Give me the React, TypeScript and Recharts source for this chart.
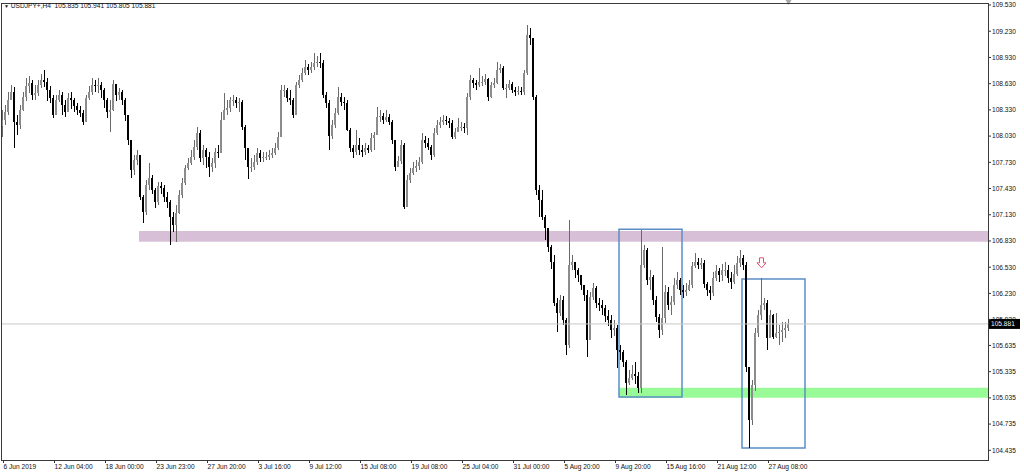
import { Bar, BarChart, ReferenceArea, ReferenceDot, ReferenceLine, XAxis, YAxis } from "recharts";

// USDJPY+ H4, one entry per bar (open = previous close)
const closes = [
  108.21, 108.31, 108.44, 108.53, 108.19, 108.16, 108.33, 108.48, 108.60, 108.64,
  108.50, 108.52, 108.61, 108.67, 108.65, 108.56, 108.47, 108.27, 108.44, 108.50,
  108.39, 108.31, 108.47, 108.44, 108.37, 108.33, 108.29, 108.19, 108.47, 108.53,
  108.61, 108.60, 108.61, 108.56, 108.44, 108.31, 108.33, 108.63, 108.50, 108.53,
  108.44, 108.27, 107.99, 107.64, 107.76, 107.81, 107.33, 107.16, 107.47, 107.55,
  107.41, 107.28, 107.46, 107.44, 107.33, 107.28, 107.10, 107.01, 107.15, 107.36,
  107.49, 107.67, 107.72, 107.79, 107.91, 108.07, 107.78, 107.87, 107.79, 107.68,
  107.72, 107.85, 107.84, 108.21, 108.33, 108.35, 108.44, 108.44, 108.41, 108.42,
  108.13, 107.89, 107.68, 107.68, 107.73, 107.84, 107.78, 107.79, 107.79, 107.81,
  107.84, 107.89, 108.02, 108.56, 108.56, 108.47, 108.44, 108.27, 108.61, 108.67,
  108.75, 108.82, 108.79, 108.82, 108.87, 108.88, 108.87, 108.50, 108.41, 108.03,
  108.16, 108.29, 108.48, 108.42, 108.41, 108.10, 107.89, 107.85, 107.93, 107.87,
  107.85, 107.89, 107.87, 108.01, 108.04, 108.25, 108.26, 108.21, 108.25, 108.19,
  107.99, 107.68, 107.75, 107.93, 107.22, 107.53, 107.61, 107.67, 107.69, 107.73,
  107.99, 107.95, 107.91, 107.81, 108.07, 108.16, 108.19, 108.21, 108.20, 108.18,
  108.02, 108.08, 108.13, 108.13, 108.12, 108.48, 108.67, 108.64, 108.61, 108.65,
  108.65, 108.68, 108.48, 108.61, 108.64, 108.79, 108.81, 108.58, 108.58, 108.63,
  108.56, 108.53, 108.55, 108.53, 108.75, 109.19, 109.15, 108.48, 107.41, 107.30,
  107.10, 106.98, 106.76, 106.59, 106.12, 106.01, 106.15, 105.93, 105.64, 106.56,
  106.59, 106.50, 106.44, 106.33, 106.21, 105.70, 106.19, 106.29, 106.12, 106.10,
  106.06, 105.97, 105.93, 105.81, 105.84, 105.58, 105.56, 105.45, 105.21, 105.26,
  105.31, 105.28, 105.15, 106.56, 106.73, 106.38, 106.42, 106.15, 105.96, 105.81,
  105.95, 106.25, 106.10, 106.13, 106.33, 106.38, 106.27, 106.25, 106.27, 106.33,
  106.54, 106.59, 106.56, 106.58, 106.34, 106.27, 106.23, 106.41, 106.49, 106.44,
  106.50, 106.50, 106.41, 106.36, 106.45, 106.58, 106.64, 106.56, 105.39, 104.78,
  105.18, 105.78, 105.98, 106.10, 106.12, 105.72, 105.98, 105.73, 105.78, 105.79,
  105.81, 105.835, 105.881,
];

const highs = [
  108.33, 108.39, 108.53, 108.61, 108.59, 108.27, 108.39, 108.53, 108.70, 108.72,
  108.67, 108.61, 108.67, 108.74, 108.79, 108.70, 108.60, 108.50, 108.50, 108.56,
  108.53, 108.44, 108.52, 108.53, 108.47, 108.41, 108.37, 108.33, 108.50, 108.60,
  108.70, 108.67, 108.70, 108.65, 108.58, 108.47, 108.44, 108.67, 108.63, 108.58,
  108.56, 108.47, 108.27, 107.99, 107.81, 107.87, 107.81, 107.36, 107.53, 107.72,
  107.58, 107.44, 107.50, 107.50, 107.47, 107.39, 107.30, 107.16, 107.24, 107.41,
  107.55, 107.70, 107.78, 107.87, 107.99, 108.13, 108.10, 107.93, 107.89, 107.85,
  107.78, 107.89, 107.93, 108.31, 108.52, 108.44, 108.48, 108.50, 108.48, 108.47,
  108.44, 108.16, 107.87, 107.78, 107.81, 107.89, 107.87, 107.85, 107.85, 107.87,
  107.89, 107.95, 108.08, 108.61, 108.61, 108.58, 108.56, 108.47, 108.65, 108.73,
  108.81, 108.90, 108.86, 108.88, 108.98, 108.95, 108.98, 108.90, 108.53, 108.44,
  108.21, 108.35, 108.59, 108.52, 108.48, 108.44, 108.12, 107.93, 108.10, 108.01,
  107.93, 107.95, 107.93, 108.07, 108.08, 108.36, 108.33, 108.30, 108.33, 108.28,
  108.21, 107.99, 107.80, 107.99, 107.95, 107.58, 107.67, 107.73, 107.76, 107.79,
  108.07, 108.03, 108.01, 107.93, 108.12, 108.21, 108.25, 108.27, 108.26, 108.24,
  108.21, 108.12, 108.24, 108.19, 108.18, 108.52, 108.73, 108.70, 108.67, 108.81,
  108.72, 108.74, 108.70, 108.65, 108.70, 108.88, 108.85, 108.83, 108.63, 108.67,
  108.65, 108.59, 108.60, 108.59, 108.79, 109.30, 109.27, 109.13, 108.50, 107.47,
  107.41, 107.13, 106.93, 106.78, 106.67, 106.18, 106.21, 106.20, 105.95, 107.07,
  106.67, 106.59, 106.52, 106.43, 106.33, 106.27, 106.25, 106.35, 106.31, 106.18,
  106.15, 106.10, 106.04, 105.98, 105.93, 105.87, 105.64, 105.58, 105.47, 105.35,
  105.41, 105.44, 105.33, 106.96, 106.78, 106.75, 106.50, 106.44, 106.20, 105.99,
  106.76, 106.33, 106.30, 106.20, 106.41, 106.47, 106.41, 106.33, 106.35, 106.38,
  106.59, 106.69, 106.63, 106.63, 106.61, 106.36, 106.31, 106.47, 106.56, 106.52,
  106.57, 106.59, 106.55, 106.47, 106.55, 106.66, 106.73, 106.67, 106.59, 105.35,
  105.24, 105.84, 106.04, 106.41, 106.18, 106.15, 106.04, 105.99, 106.01, 105.87,
  105.90, 105.90, 105.941,
];

const lows = [
  108.02, 108.16, 108.27, 108.44, 107.89, 108.04, 108.12, 108.31, 108.44, 108.53,
  108.44, 108.44, 108.49, 108.58, 108.60, 108.44, 108.40, 108.24, 108.31, 108.42,
  108.27, 108.24, 108.31, 108.33, 108.31, 108.27, 108.24, 108.16, 108.19, 108.44,
  108.50, 108.53, 108.53, 108.47, 108.35, 108.24, 108.07, 108.31, 108.44, 108.44,
  108.39, 108.21, 107.93, 107.55, 107.58, 107.70, 107.30, 107.04, 107.13, 107.41,
  107.36, 107.21, 107.24, 107.36, 107.28, 107.21, 106.78, 106.93, 106.82, 107.13,
  107.32, 107.47, 107.64, 107.70, 107.76, 107.87, 107.73, 107.70, 107.66, 107.56,
  107.62, 107.66, 107.78, 108.12, 108.24, 108.27, 108.31, 108.37, 108.35, 108.31,
  108.10, 107.76, 107.53, 107.62, 107.64, 107.70, 107.73, 107.73, 107.76, 107.76,
  107.78, 107.81, 107.87, 108.02, 108.47, 108.42, 108.39, 108.24, 108.27, 108.58,
  108.65, 108.73, 108.73, 108.75, 108.79, 108.82, 108.81, 108.47, 108.35, 107.87,
  107.99, 108.12, 108.27, 108.37, 108.33, 108.08, 107.85, 107.78, 107.81, 107.81,
  107.79, 107.81, 107.84, 107.85, 107.87, 108.04, 108.19, 108.17, 108.19, 108.15,
  107.93, 107.64, 107.67, 107.72, 107.20, 107.24, 107.50, 107.58, 107.62, 107.64,
  107.71, 107.89, 107.87, 107.76, 107.79, 108.04, 108.12, 108.16, 108.16, 108.13,
  107.99, 107.99, 108.08, 108.09, 108.07, 108.04, 108.44, 108.58, 108.56, 108.59,
  108.60, 108.61, 108.44, 108.47, 108.58, 108.63, 108.75, 108.56, 108.47, 108.56,
  108.52, 108.49, 108.50, 108.50, 108.50, 108.73, 109.07, 108.44, 107.36, 107.10,
  107.07, 106.84, 106.70, 106.50, 106.09, 105.79, 105.97, 105.87, 105.53, 105.61,
  106.50, 106.41, 106.36, 106.27, 106.15, 105.50, 105.70, 106.15, 106.06, 106.03,
  105.98, 105.90, 105.86, 105.72, 105.75, 105.38, 105.47, 105.38, 105.07, 105.18,
  105.24, 105.19, 105.09, 105.10, 106.52, 106.33, 106.27, 106.10, 105.90, 105.72,
  105.75, 105.90, 106.04, 105.98, 106.10, 106.27, 106.21, 106.18, 106.20, 106.25,
  106.29, 106.52, 106.50, 106.50, 106.29, 106.20, 106.15, 106.20, 106.38, 106.36,
  106.38, 106.43, 106.34, 106.27, 106.33, 106.43, 106.54, 106.50, 105.33, 104.46,
  104.72, 105.12, 105.73, 105.93, 106.04, 105.58, 105.74, 105.70, 105.72, 105.64,
  105.67, 105.72, 105.805,
];

const firstOpen = 108.14;

const timeLabels = [
  "6 Jun 2019", "12 Jun 04:00", "18 Jun 00:00", "23 Jun 23:00", "27 Jun 20:00",
  "3 Jul 16:00", "9 Jul 12:00", "15 Jul 08:00", "19 Jul 08:00", "25 Jul 04:00",
  "31 Jul 00:00", "5 Aug 20:00", "9 Aug 20:00", "15 Aug 16:00", "21 Aug 12:00",
  "27 Aug 08:00",
];

const priceTicks = [
  109.53, 109.23, 108.93, 108.63, 108.33, 108.03, 107.73, 107.43, 107.13,
  106.83, 106.53, 106.23, 105.93, 105.635, 105.335, 105.035, 104.735, 104.435,
];

const lastBar = { open: 105.835, high: 105.941, low: 105.805, close: 105.881 };

// zones and boxes drawn on the chart (bar index / price)
const resistanceZone = { from: 46, lo: 106.82, hi: 106.945 };
const supportZone = { from: 206, lo: 105.035, hi: 105.15 };
const boxes = [
  { x1: 206, x2: 226, lo: 105.045, hi: 106.965 },
  { x1: 247, x2: 267, lo: 104.46, hi: 106.395 },
];
const arrowMark = { bar: 253, price: 106.58 };

const SLOTS = 329; // chart shift leaves empty space on the right
const LABEL_STEP = 17;
const FONT = "'Liberation Sans', Arial, sans-serif";

const data = Array.from({ length: SLOTS }, (_, i) => {
  if (i >= closes.length) return { idx: i };
  const open = i === 0 ? firstOpen : closes[i - 1];
  const close = closes[i];
  const high = Math.max(highs[i], open, close);
  const low = Math.min(lows[i], open, close);
  return { idx: i, open, close, high, low, range: [low, high] };
});

const tickIdx = timeLabels.map((_, k) => k * LABEL_STEP);

function Candle(props: any) {
  const { x, y, width, height, payload } = props;
  if (!payload || !payload.range) return null;
  const { open, close, high, low } = payload;
  const top = Math.min(y, y + height);
  const h = Math.abs(height);
  const k = h / (high - low || 1e-6);
  const py = (v: number) => top + (high - v) * k;
  const up = close >= open;
  const wick = up ? "#6a6a6a" : "#000";
  const body = up ? "#8c8c8c" : "#000";
  const cx = Math.floor(x + width / 2);
  const bTop = Math.round(py(Math.max(open, close)));
  const bBot = Math.max(bTop + 1, Math.round(py(Math.min(open, close))));
  return (
    <g>
      <rect x={cx} y={Math.round(top)} width={1} height={Math.max(1, Math.round(h))} fill={wick} />
      <rect x={cx - 1} y={bTop} width={2} height={bBot - bTop} fill={body} />
    </g>
  );
}

function TimeTick(props: any) {
  const { x, y, payload } = props;
  const label = timeLabels[payload.value / LABEL_STEP];
  if (!label) return null;
  const px = Math.round(x) + 0.5;
  return (
    <g>
      <line x1={px} x2={px} y1={y} y2={y + 3} stroke="#333" />
      <text x={px} y={y + 9} fontSize={6.6} fontFamily={FONT} fill="#111">
        {label}
      </text>
    </g>
  );
}

function PriceTag(props: any) {
  const vb = props.viewBox;
  if (!vb) return null;
  const x = vb.x + vb.width + 1;
  return (
    <g>
      <rect x={x} y={vb.y - 5} width={31} height={10} fill="#000" />
      <text x={x + 2} y={vb.y + 2.5} fontSize={6.6} fontFamily={FONT} fill="#fff">
        {lastBar.close.toFixed(3)}
      </text>
    </g>
  );
}

function DownArrow(props: any) {
  const { cx, cy } = props;
  const d = `M${cx - 2},${cy - 5} L${cx + 2},${cy - 5} L${cx + 2},${cy} L${cx + 4.5},${cy} L${cx},${cy + 5} L${cx - 4.5},${cy} L${cx - 2},${cy} Z`;
  return <path d={d} fill="#fff" stroke="#e8506a" strokeWidth={1} />;
}

function ShiftMarker(props: any) {
  const { cx, cy } = props;
  return <path d={`M${cx - 3},${cy - 3} L${cx + 3},${cy - 3} L${cx},${cy + 2} Z`} fill="#a8a8a8" />;
}

export default function App() {
  const ohlc = `${lastBar.open.toFixed(3)} ${lastBar.high.toFixed(3)} ${lastBar.low.toFixed(3)} ${lastBar.close.toFixed(3)}`;
  return (
    <div style={{ position: "absolute", left: 0, top: 0, width: 1024, height: 474, background: "#fff", overflow: "hidden" }}>
      <BarChart
        width={1024}
        height={474}
        data={data}
        margin={{ top: 3, right: 0, bottom: 0, left: 1 }}
        barCategoryGap={0}
        barGap={0}
      >
        <XAxis
          dataKey="idx"
          height={14}
          ticks={tickIdx}
          interval={0}
          tick={<TimeTick />}
          tickLine={false}
          axisLine={false}
          tickSize={0}
          tickMargin={0}
        />
        <YAxis
          orientation="right"
          width={36}
          type="number"
          domain={[104.324, 109.553]}
          allowDataOverflow
          ticks={priceTicks}
          interval={0}
          tickFormatter={(v: number) => v.toFixed(3)}
          tick={{ fontSize: 6.6, fontFamily: FONT, fill: "#111" }}
          tickSize={3}
          tickMargin={1}
          tickLine={{ stroke: "#333" }}
          axisLine={false}
        />
        <ReferenceArea
          x1={resistanceZone.from}
          y1={resistanceZone.lo}
          y2={resistanceZone.hi}
          fill="#d8bfd8"
          fillOpacity={1}
          stroke="none"
        />
        <ReferenceArea
          x1={supportZone.from}
          y1={supportZone.lo}
          y2={supportZone.hi}
          fill="#98fb98"
          fillOpacity={1}
          stroke="none"
        />
        <ReferenceLine y={lastBar.close} stroke="#c8c8c8" label={PriceTag} />
        <Bar dataKey="range" isAnimationActive={false} shape={<Candle />} />
        {boxes.map((b, i) => (
          <ReferenceArea
            key={i}
            x1={b.x1}
            x2={b.x2}
            y1={b.lo}
            y2={b.hi}
            fill="none"
            fillOpacity={0}
            stroke="#5b8ec4"
            strokeWidth={1.5}
          />
        ))}
        <ReferenceDot x={arrowMark.bar} y={arrowMark.price} shape={<DownArrow />} />
        <ReferenceDot x={closes.length - 1} y={109.553} shape={<ShiftMarker />} ifOverflow="visible" />
      </BarChart>
      <div
        style={{
          position: "absolute",
          left: 1,
          top: 3,
          width: 988,
          height: 458,
          boxSizing: "border-box",
          border: "1px solid #3a3a3a",
          pointerEvents: "none",
        }}
      />
      <div
        style={{
          position: "absolute",
          left: 4,
          top: 2,
          fontFamily: FONT,
          fontSize: 6.6,
          lineHeight: "8px",
          color: "#111",
          whiteSpace: "pre",
        }}
      >
        <span style={{ fontSize: 5 }}>▼</span> USDJPY+,H4  {ohlc}
      </div>
    </div>
  );
}
